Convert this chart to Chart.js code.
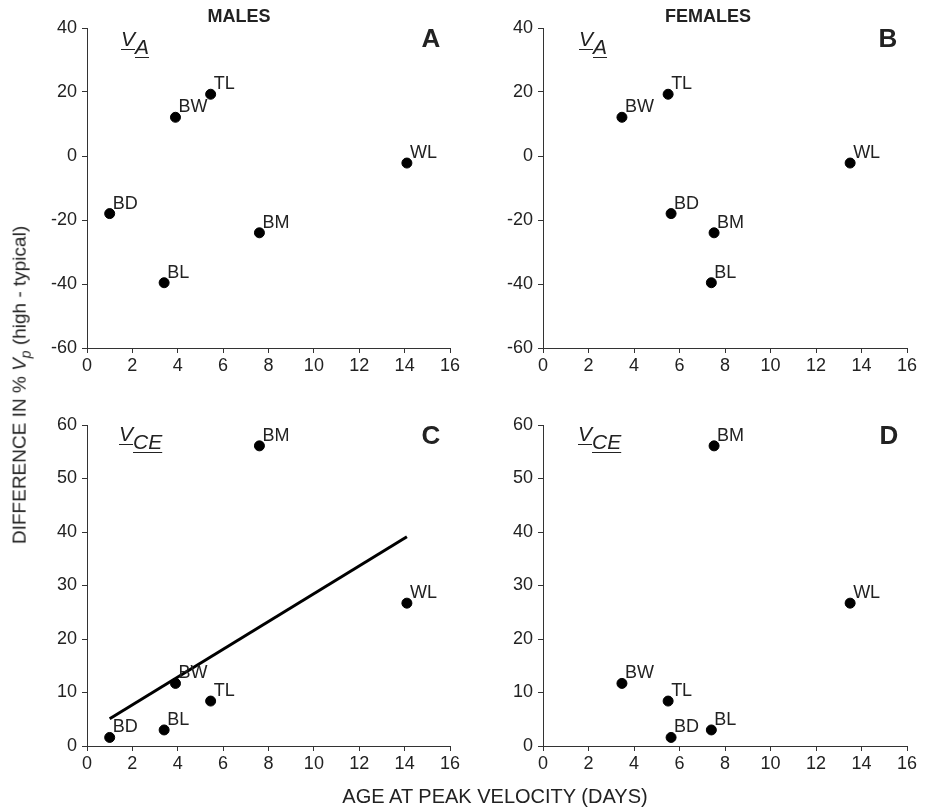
<!DOCTYPE html>
<html lang="en">
<head>
<meta charset="UTF-8">
<title>Age at peak velocity</title>
<script src="https://cdn.jsdelivr.net/npm/chart.js@4/dist/chart.umd.min.js"></script>
<style>
  body { margin: 0; background: #fff; font-family: "Liberation Sans", Arial, sans-serif; color: #222; }
  #wrap { position: relative; width: 926px; height: 811px; }
  canvas { position: absolute; }
  .txt { position: absolute; white-space: nowrap; }
  .head { font-weight: bold; font-size: 18px; transform: translateX(-50%); }
  .letter { font-weight: bold; font-size: 26px; transform: translateX(-50%); }
  .vlab { font-size: 21px; font-style: italic; }
  .vlab sub { font-size: 21px; vertical-align: -8px; }
  .vlab u { text-decoration-thickness: 1px; text-underline-offset: 3px; }
</style>
</head>
<body>
<div id="wrap">
  <canvas id="pA" width="463" height="400" style="left:0;top:0"></canvas>
  <canvas id="pB" width="463" height="400" style="left:463px;top:0"></canvas>
  <canvas id="pC" width="463" height="411" style="left:0;top:400px"></canvas>
  <canvas id="pD" width="463" height="411" style="left:463px;top:400px"></canvas>

  <div class="txt head" style="left:239px;top:6px">MALES</div>
  <div class="txt head" style="left:708px;top:6px">FEMALES</div>
  <div class="txt letter" style="left:431px;top:23px">A</div>
  <div class="txt letter" style="left:888px;top:23px">B</div>
  <div class="txt letter" style="left:431px;top:420px">C</div>
  <div class="txt letter" style="left:889px;top:420px">D</div>
  <div class="txt vlab" style="left:121px;top:27px"><u>V</u><sub><u>A</u></sub></div>
  <div class="txt vlab" style="left:579px;top:27px"><u>V</u><sub><u>A</u></sub></div>
  <div class="txt vlab" style="left:119px;top:422px"><u>V</u><sub><u>CE</u></sub></div>
  <div class="txt vlab" style="left:578px;top:422px"><u>V</u><sub><u>CE</u></sub></div>

  <div class="txt" style="left:21px;top:385px;font-size:19px;transform:translate(-50%,-50%) rotate(-90deg)">DIFFERENCE IN % <i>V<sub style="font-size:14px">p</sub></i> (high - typical)</div>
  <div class="txt" style="left:495px;top:785px;font-size:20px;transform:translateX(-50%)">AGE AT PEAK VELOCITY (DAYS)</div>
</div>
<script>
// species codes, same order in every panel
const species = ['BD', 'BL', 'BW', 'TL', 'BM', 'WL'];

// age at peak velocity (days)
const maleAge   = [1.0, 3.4, 3.9, 5.45, 7.6, 14.1];
const femaleAge = [5.63, 7.4, 3.47, 5.5, 7.52, 13.5];

// difference in % Vp (high - typical)
const maleVA    = [-18.0, -39.6, 12.1, 19.3, -24.0, -2.2];
const femaleVA  = [-18.0, -39.6, 12.1, 19.3, -24.0, -2.2];
const maleVCE   = [1.6, 3.0, 11.7, 8.4, 56.1, 26.7];
const femaleVCE = [1.6, 3.0, 11.7, 8.4, 56.1, 26.7];

// regression line in panel C
const fitX = [1.0, 14.1];
const fitY = [5.1, 39.1];

const xTicks = [0, 2, 4, 6, 8, 10, 12, 14, 16];
const vaTicks = [-60, -40, -20, 0, 20, 40];
const vceTicks = [0, 10, 20, 30, 40, 50, 60];

const FONT = '"Liberation Sans", Arial, sans-serif';

// writes the species code next to each point
const pointLabels = {
  id: 'pointLabels',
  afterDatasetsDraw(chart) {
    const ctx = chart.ctx;
    const meta = chart.getDatasetMeta(0);
    ctx.save();
    ctx.font = '18px ' + FONT;
    ctx.fillStyle = '#222';
    ctx.textAlign = 'left';
    ctx.textBaseline = 'alphabetic';
    meta.data.forEach((pt, i) => {
      ctx.fillText(species[i], pt.x + 3, pt.y - 5);
    });
    ctx.restore();
  }
};

function panel(id, ages, diffs, yTicks, box, fit) {
  const pts = ages.map((a, i) => ({ x: a, y: diffs[i] }));
  const datasets = [{
    type: 'scatter',
    data: pts,
    backgroundColor: '#000',
    borderColor: '#000',
    pointRadius: 5,
    pointHoverRadius: 5
  }];
  if (fit) {
    datasets.push({
      type: 'line',
      data: fit.x.map((v, i) => ({ x: v, y: fit.y[i] })),
      borderColor: '#000',
      borderWidth: 3,
      pointRadius: 0,
      fill: false
    });
  }
  const tickFont = { family: FONT, size: 18 };
  new Chart(document.getElementById(id), {
    type: 'scatter',
    data: { datasets },
    options: {
      responsive: false,
      animation: false,
      events: [],
      layout: { padding: { left: 0, top: box.top, right: box.right, bottom: 0 } },
      plugins: { legend: { display: false }, tooltip: { enabled: false } },
      scales: {
        x: {
          type: 'linear',
          min: xTicks[0],
          max: xTicks[xTicks.length - 1],
          afterBuildTicks: s => { s.ticks = xTicks.map(v => ({ value: v })); },
          ticks: { color: '#222', font: tickFont, padding: 2 },
          grid: { drawOnChartArea: false, drawTicks: true, tickLength: 5, color: '#333' },
          border: { color: '#333', width: 1 },
          afterFit: s => { s.height = box.xh; }
        },
        y: {
          type: 'linear',
          min: yTicks[0],
          max: yTicks[yTicks.length - 1],
          afterBuildTicks: s => { s.ticks = yTicks.map(v => ({ value: v })); },
          ticks: { color: '#222', font: tickFont, padding: 5 },
          grid: { drawOnChartArea: false, drawTicks: true, tickLength: 5, color: '#333' },
          border: { color: '#333', width: 1 },
          afterFit: s => { s.width = box.left; }
        }
      }
    },
    plugins: [pointLabels]
  });
}

panel('pA', maleAge, maleVA, vaTicks, { left: 87, top: 28, right: 13, xh: 52 });
panel('pB', femaleAge, femaleVA, vaTicks, { left: 80, top: 28, right: 19, xh: 52 });
panel('pC', maleAge, maleVCE, vceTicks, { left: 87, top: 25, right: 13, xh: 65 }, { x: fitX, y: fitY });
panel('pD', femaleAge, femaleVCE, vceTicks, { left: 80, top: 25, right: 19, xh: 65 });
</script>
</body>
</html>
